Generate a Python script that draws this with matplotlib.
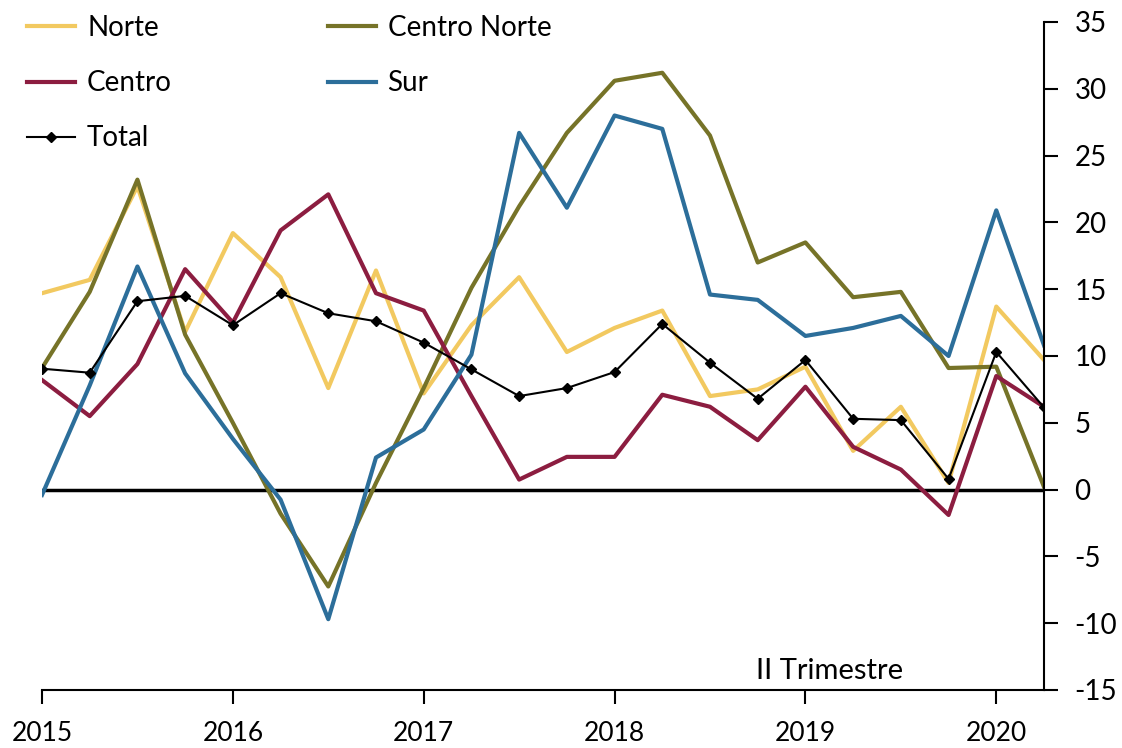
import matplotlib
matplotlib.use("Agg")
import matplotlib.pyplot as plt

plt.rcParams["font.family"] = ["Lato", "DejaVu Sans"]
plt.rcParams["axes.unicode_minus"] = False

# quarterly data, 2015-I .. 2020-II
quarters = list(range(22))
year_ticks = [0, 4, 8, 12, 16, 20]
year_labels = ["2015", "2016", "2017", "2018", "2019", "2020"]

norte = [14.7, 15.7, 22.7, 11.8, 19.2, 15.9, 7.6, 16.4, 7.2, 12.3, 15.9, 10.3,
         12.1, 13.4, 7.0, 7.5, 9.2, 2.9, 6.2, 0.5, 13.7, 9.7]
centro_norte = [9.1, 14.8, 23.2, 11.6, 5.0, -1.8, -7.25, 0.5, 7.6, 15.1, 21.2, 26.7,
                30.6, 31.2, 26.5, 17.0, 18.5, 14.4, 14.8, 9.1, 9.2, 0.2]
centro = [8.2, 5.5, 9.4, 16.5, 12.5, 19.4, 22.1, 14.7, 13.4, 7.0, 0.75, 2.45,
          2.45, 7.1, 6.2, 3.7, 7.7, 3.2, 1.5, -1.9, 8.5, 6.2]
sur = [-0.4, 7.8, 16.7, 8.7, 3.8, -0.75, -9.7, 2.4, 4.5, 10.1, 26.7, 21.1,
       28.0, 27.0, 14.6, 14.2, 11.5, 12.1, 13.0, 10.0, 20.9, 10.8]
total = [9.05, 8.75, 14.1, 14.5, 12.3, 14.7, 13.2, 12.6, 11.0, 9.0, 7.0, 7.6,
         8.8, 12.4, 9.5, 6.8, 9.7, 5.3, 5.2, 0.8, 10.3, 6.15]

fig = plt.figure(figsize=(11.22, 7.48), dpi=100)
ax = fig.add_axes([42 / 1122, 58 / 748, 1002 / 1122, 668 / 748])

ax.axhline(0, color="black", linewidth=2.5, zorder=1)

l_norte, = ax.plot(quarters, norte, color="#F2C960", linewidth=3, label="Norte")
l_cn, = ax.plot(quarters, centro_norte, color="#767328", linewidth=3, label="Centro Norte")
l_centro, = ax.plot(quarters, centro, color="#8C1D40", linewidth=3, label="Centro")
l_sur, = ax.plot(quarters, sur, color="#2C6E9A", linewidth=3, label="Sur")
l_total, = ax.plot(quarters, total, color="black", linewidth=1.5, marker="D",
                   markersize=5.5, label="Total")

ax.set_xlim(0, 21)
ax.set_ylim(-15, 35)
ax.set_yticks(range(-15, 36, 5))
ax.set_xticks(year_ticks)
ax.set_xticklabels(year_labels)

ax.yaxis.tick_right()
ax.spines["left"].set_visible(False)
ax.spines["top"].set_visible(False)
ax.spines["right"].set_linewidth(1.5)
ax.spines["bottom"].set_linewidth(1.5)
ax.tick_params(axis="y", direction="out", length=10, width=1.5, pad=12, labelsize=20)
ax.tick_params(axis="x", direction="out", length=10, width=1.5, pad=12, labelsize=19)

ax.text(16.5, -13.6, "II Trimestre", ha="center", va="center", fontsize=21)

ax.legend(handles=[l_norte, l_centro, l_total, l_cn, l_sur], ncol=2,
          frameon=False, fontsize=20, loc="upper left",
          bbox_to_anchor=(16 / 1122, 1 - 4 / 748), bbox_transform=fig.transFigure,
          handlelength=1.73, handletextpad=0.43, columnspacing=5.6, labelspacing=1.05,
          borderaxespad=0)

plt.savefig("out.png", dpi=100)
